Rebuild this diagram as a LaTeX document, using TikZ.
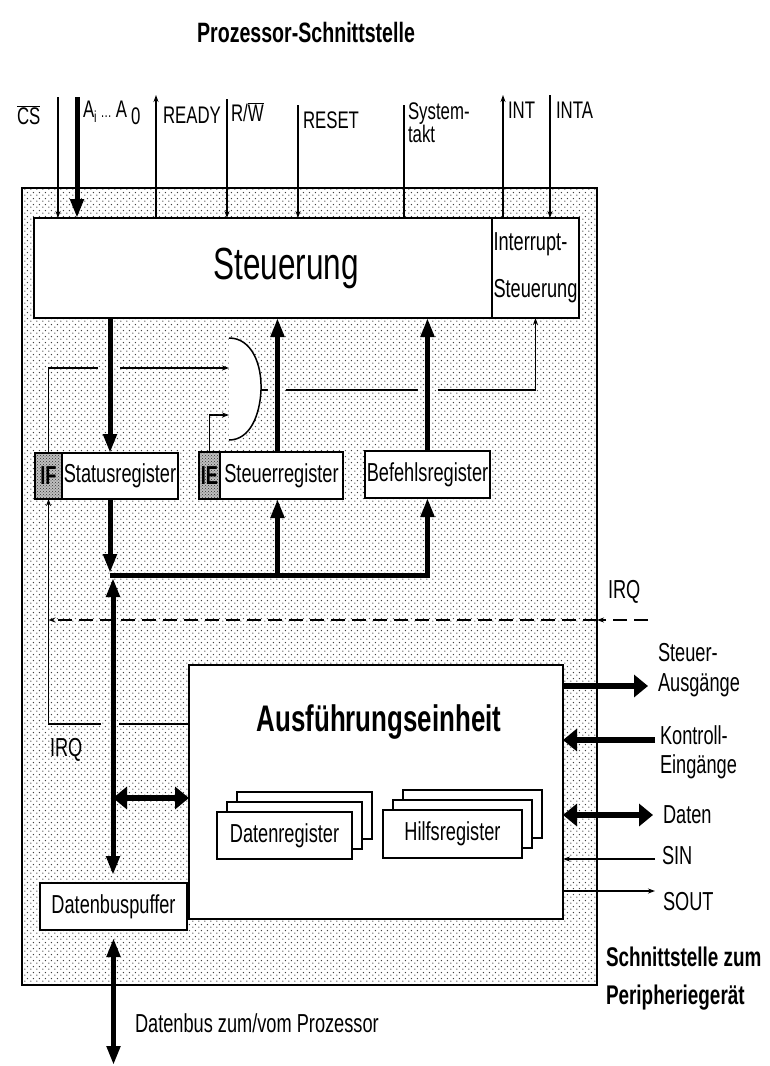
\documentclass[tikz,border=0pt]{standalone}
\usepackage{fontspec}
\setmainfont{Liberation Sans}[FakeStretch=0.7]
\usetikzlibrary{arrows.meta, patterns, patterns.meta}

\tikzdeclarepattern{
  name=speckle, type=uncolored,
  bounding box={(0pt,0pt) and (6pt,6pt)},
  tile size={(6pt,6pt)},
  code={
    \pgfpathcircle{\pgfpoint{1pt}{1pt}}{0.8pt}
    \pgfpathcircle{\pgfpoint{4pt}{4pt}}{0.8pt}
    \pgfusepath{fill}
  }
}

\begin{document}
\begin{tikzpicture}[
    x=1pt, y=-1pt,
    every node/.style={inner sep=0pt, outer sep=0pt, font=\fontsize{26}{29}\selectfont},
    box/.style={rectangle, draw, line width=1.5pt, fill=white, anchor=north west},
    area/.style={rectangle, draw, line width=1.5pt, anchor=north west, preaction={fill=white}, pattern=speckle, pattern color=black!75},
    flag/.style={rectangle, draw, line width=1.5pt, anchor=north west, preaction={fill=black!25}, pattern=crosshatch dots, pattern color=black!80, font=\bfseries\fontsize{26}{29}\selectfont},
    wire/.style={line width=1.2pt, >={Stealth[length=7pt,width=5pt]}},
    bus/.style={line width=5pt, >={Triangle[length=19pt,width=13pt]}},
    hbus/.style={line width=6.5pt, >={Triangle[length=14pt,width=22pt]}},
    lbl/.style={anchor=west, align=left},
    toplbl/.style={lbl, font=\fontsize{24}{23}\selectfont},
    big/.style={font=\bfseries\fontsize{27}{38}\selectfont}
]
\useasboundingbox (0,0) rectangle (769,1066);

% Title
\node[font=\bfseries\fontsize{28}{30}\selectfont] (title) at (306,32) {Prozessor-Schnittstelle};

% Chip area and blocks
\node[area, minimum width=575, minimum height=797] (chip) at (22,188) {};
\node[box, minimum width=458, minimum height=100] (ctrl) at (34,218) {};
\node[font=\fontsize{45}{48}\selectfont] (ctrl text) at (286,268) {Steuerung};
\node[box, minimum width=87, minimum height=100, align=left, font=\fontsize{26}{47}\selectfont] (intr) at (492,218) {Interrupt-\\Steuerung};

% Registers
\node[flag, minimum width=27, minimum height=46] (if) at (35,453) {IF};
\node[box, minimum width=116, minimum height=46] (status) at (62,453) {Statusregister};
\node[flag, minimum width=21, minimum height=47] (ie) at (199,452) {IE};
\node[box, minimum width=123, minimum height=47] (steuerreg) at (220,452) {Steuerregister};
\node[box, minimum width=125, minimum height=47] (befehl) at (365,451) {Befehlsregister};

% Execution unit
\node[box, minimum width=374, minimum height=254] (exec) at (189,665) {};
\node[font=\bfseries\fontsize{37}{40}\selectfont] (exec title) at (379,722) {Ausführungseinheit};
\foreach \d in {20,10} {
  \node[box, minimum width=135, minimum height=47] (dreg back \d) at (217+\d,812-\d) {};
  \node[box, minimum width=139, minimum height=48] (hreg back \d) at (383+\d,810-\d) {};
}
\node[box, minimum width=135, minimum height=47] (dreg) at (217,812) {Datenregister};
\node[box, minimum width=139, minimum height=48] (hreg) at (383,810) {Hilfsregister};

% Data bus buffer
\node[box, minimum width=147, minimum height=47] (puffer) at (40,883) {Datenbuspuffer};

% AND gate
\draw[line width=1.5pt, fill=white] (229,338) .. controls (252,338) and (262,365) .. (261,390)
  .. controls (260,415) and (250,440) .. (229,440);
\coordinate (gate in1) at (229,368);
\coordinate (gate in2) at (229,415);
\coordinate (gate out) at (261,390);

% Processor side labels
\node[toplbl] (cs lbl) at (17,115) {$\overline{\mbox{CS}}$};
\node[toplbl] (adr lbl) at (83,113) {A\raisebox{-5pt}{\fontsize{16}{16}\selectfont i}\,{\fontsize{16}{16}\selectfont\ldots}\,A\,\raisebox{-7pt}{0}};
\node[toplbl] (ready lbl) at (163,115) {READY};
\node[toplbl] (rw lbl) at (231,112) {R/$\overline{\mbox{W}}$};
\node[toplbl] (reset lbl) at (303,120) {RESET};
\node[toplbl] (clk lbl) at (408,123) {System-\\takt};
\node[toplbl] (int lbl) at (508,110) {INT};
\node[toplbl] (inta lbl) at (556,110) {INTA};

% Processor side signals
\coordinate (cs top) at (58,97);
\coordinate (adr top) at (77,97);
\coordinate (ready top) at (156,95);
\coordinate (rw top) at (227,99);
\coordinate (reset top) at (298,105);
\coordinate (clk top) at (404,105);
\coordinate (int top) at (503,95);
\coordinate (inta top) at (550,95);
\draw[wire,->] (cs top) -- (cs top |- ctrl.north);
\draw[bus,->] (adr top) -- (adr top |- ctrl.north);
\draw[wire,->] (ready top |- ctrl.north) -- (ready top);
\draw[wire,->] (rw top) -- (rw top |- ctrl.north);
\draw[wire,->] (reset top) -- (reset top |- ctrl.north);
\draw[wire] (clk top) -- (clk top |- ctrl.north);
\draw[wire,->] (int top |- intr.north) -- (int top);
\draw[wire,->] (inta top) -- (inta top |- intr.north);

% Internal register paths
\coordinate (bus west) at (110,575);
\coordinate (vbus) at (113,575);
\draw[bus,->] ([xshift=-10pt]status.north |- ctrl.south) -- ([xshift=-10pt]status.north);
\draw[bus,->] ([xshift=-4pt]steuerreg.north) -- ([xshift=-4pt]steuerreg.north |- ctrl.south);
\draw[bus,->] (befehl.north) -- (befehl.north |- ctrl.south);
\draw[bus,->, shorten >=2pt] ([xshift=-10pt]status.south) -- ([xshift=-10pt]status.south |- bus west);
\draw[bus,->] (bus west) -| (befehl.south);
\draw[bus,->] ([xshift=-4pt]steuerreg.south |- bus west) -- ([xshift=-4pt]steuerreg.south);
\draw[bus,<->, shorten <=3pt, shorten >=8pt] (vbus) -- (vbus |- puffer.north);

% Interrupt logic
\draw[wire] (if.north) |- ([xshift=-22pt]status.north |- gate in1);
\draw[wire,->] (status.north |- gate in1) -- (gate in1);
\draw[wire,->] (ie.north) |- (gate in2);
\draw[wire] (gate out) -- ([xshift=-13.5pt]steuerreg.north |- gate out);
\draw[wire] ([xshift=4pt]steuerreg.north |- gate out) -- ([xshift=-10pt]befehl.north |- gate out);
\draw[wire,->] ([xshift=10pt]befehl.north |- gate out) -| (intr.south);

% IRQ paths
\coordinate (irq exec) at ([yshift=68pt]exec.west);
\coordinate (irq ext) at (648,620);
\draw[wire] (irq exec) -- ([xshift=6pt]vbus |- irq exec);
\draw[wire,->] ([xshift=-12pt]vbus |- irq exec) -| (if.south);
\draw[wire,->, dash pattern=on 14pt off 7pt] (irq ext) -- (chip.east |- irq ext);
\draw[wire,->, dash pattern=on 14pt off 7pt] (chip.east |- irq ext) -- (if.south |- irq ext);
\node[lbl] (irq lbl) at (608,592) {IRQ};
\node[lbl] (irq lbl2) at (50,750) {IRQ};

% Execution unit links
\coordinate (exec link) at ([yshift=-6pt]exec.west);
\draw[hbus,<->] (vbus |- exec link) -- (exec link);

% Peripheral side
\coordinate (ausg end) at (648,686);
\coordinate (kontr end) at (655,740);
\coordinate (daten end) at (653,815);
\coordinate (sin end) at (655,859);
\coordinate (sout end) at (655,891);
\draw[hbus,->] (exec.east |- ausg end) -- (ausg end);
\draw[hbus,->] (kontr end) -- (exec.east |- kontr end);
\draw[hbus,<->] (exec.east |- daten end) -- (daten end);
\draw[wire,->] (sin end) -- (exec.east |- sin end);
\draw[wire,->] (exec.east |- sout end) -- (sout end);
\node[lbl, font=\fontsize{26}{30}\selectfont] (ausg lbl) at (658,670) {Steuer-\\Ausgänge};
\node[lbl, font=\fontsize{26}{29}\selectfont] (kontr lbl) at (660,752) {Kontroll-\\Eingänge};
\node[lbl] (daten lbl) at (663,815) {Daten};
\node[lbl] (sin lbl) at (662,856) {SIN};
\node[lbl] (sout lbl) at (663,902) {SOUT};
\node[lbl, big] (periph lbl) at (606,979) {Schnittstelle zum\\Peripheriegerät};

% Data bus to processor
\coordinate (bus end) at (113.5,1065);
\draw[bus,<->, shorten <=8pt] (puffer.south) -- (bus end);
\node[lbl] (bus lbl) at (135,1023) {Datenbus zum/vom Prozessor};

\end{tikzpicture}
\end{document}
